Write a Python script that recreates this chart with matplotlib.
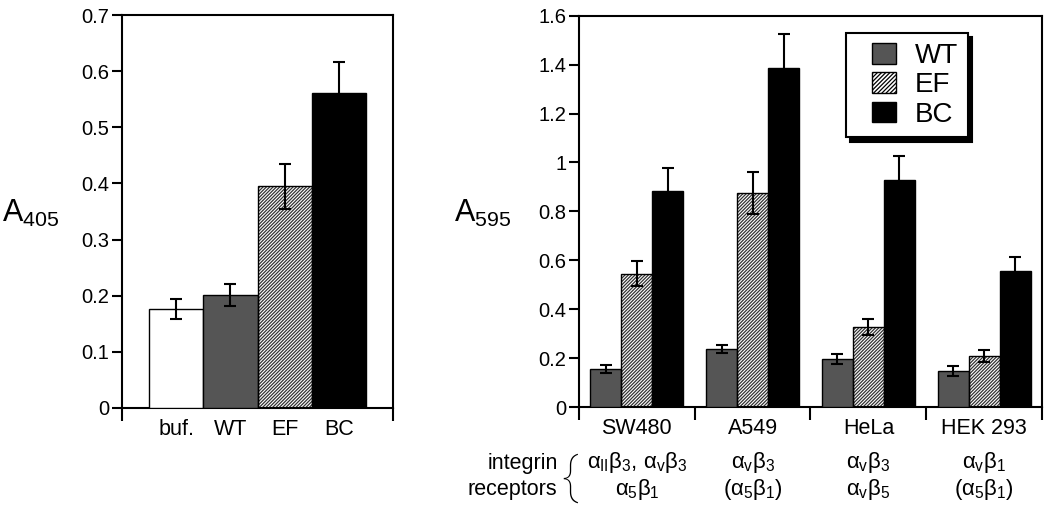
import numpy as np
import matplotlib.pyplot as plt
from matplotlib.patches import Patch, Rectangle
from matplotlib.legend_handler import HandlerPatch

plt.rcParams['font.family'] = ['Liberation Sans', 'DejaVu Sans']
plt.rcParams['mathtext.fontset'] = 'custom'
plt.rcParams['mathtext.rm'] = 'Liberation Sans'
plt.rcParams['mathtext.it'] = 'Liberation Sans'
plt.rcParams['mathtext.bf'] = 'Liberation Sans:bold'
plt.rcParams['hatch.linewidth'] = 0.9

# left panel data
left_labels = ['buf.', 'WT', 'EF', 'BC']
left_vals = [0.177, 0.201, 0.395, 0.562]
left_err = [0.018, 0.019, 0.040, 0.054]

# right panel data
cells = ['SW480', 'A549', 'HeLa', 'HEK 293']
wt_vals = [0.155, 0.236, 0.197, 0.148]
wt_err = [0.017, 0.017, 0.021, 0.020]
ef_vals = [0.545, 0.875, 0.328, 0.210]
ef_err = [0.050, 0.087, 0.033, 0.025]
bc_vals = [0.882, 1.388, 0.930, 0.558]
bc_err = [0.095, 0.136, 0.095, 0.056]
receptors_top = [r'$\alpha_{\mathrm{II}}\beta_3$, $\alpha_{\mathrm{v}}\beta_3$',
                 r'$\alpha_{\mathrm{v}}\beta_3$', r'$\alpha_{\mathrm{v}}\beta_3$',
                 r'$\alpha_{\mathrm{v}}\beta_1$']
receptors_bot = [r'$\alpha_5\beta_1$', r'($\alpha_5\beta_1$)',
                 r'$\alpha_{\mathrm{v}}\beta_5$', r'($\alpha_5\beta_1$)']

WT_COLOR = '#555555'
HATCH = '//////////'
err_kw = dict(ecolor='black', elinewidth=1.5, capsize=4.5, capthick=1.5)

fig = plt.figure(figsize=(10.5, 5.15), dpi=100)
ax1 = fig.add_axes([0.1162, 0.2078, 0.2581, 0.763])
ax2 = fig.add_axes([0.5514, 0.2097, 0.4410, 0.7598])


def hatched_bars(ax, x, vals, width, err):
    # hatch drawn in gray, outline drawn separately in black
    ax.bar(x, vals, width, color='white', edgecolor='#333333', hatch=HATCH,
           linewidth=0, zorder=2)
    return ax.bar(x, vals, width, fill=False, edgecolor='black', linewidth=1.0,
                  yerr=err, error_kw=err_kw, zorder=3)


def style_axis(ax):
    for sp in ax.spines.values():
        sp.set_linewidth(1.5)
    ax.tick_params(axis='y', direction='out', length=7, width=1.5,
                   labelsize=14.5, pad=2, right=False)
    ax.tick_params(axis='x', which='major', direction='out', length=9,
                   width=1.5, labelbottom=False)
    ax.tick_params(axis='x', which='minor', length=0, labelsize=15.5, pad=8)


# ---- left panel ----
xl = np.arange(len(left_labels))
ax1.bar(xl[0], left_vals[0], 1.0, color='white', edgecolor='black', linewidth=1.0,
        yerr=left_err[0], error_kw=err_kw, zorder=3)
ax1.bar(xl[1], left_vals[1], 1.0, color=WT_COLOR, edgecolor='black', linewidth=1.0,
        yerr=left_err[1], error_kw=err_kw, zorder=3)
hatched_bars(ax1, xl[2], left_vals[2], 1.0, left_err[2])
ax1.bar(xl[3], left_vals[3], 1.0, color='black', edgecolor='black', linewidth=1.0,
        yerr=left_err[3], error_kw=err_kw, zorder=3)
ax1.set_xlim(-1, 4)
ax1.set_ylim(0, 0.7)
ax1.set_yticks(np.arange(0, 0.71, 0.1))
ax1.set_yticklabels(['0'] + ['%.1f' % v for v in np.arange(0.1, 0.71, 0.1)])
ax1.set_xticks([-1, 4])
ax1.set_xticks(xl, left_labels, minor=True)
style_axis(ax1)
fig.text(0.002, 0.585, r'A$_{405}$', fontsize=22, ha='left', va='center')

# ---- right panel ----
xg = np.arange(len(cells))
bw = 0.267
ax2.bar(xg - bw, wt_vals, bw, color=WT_COLOR, edgecolor='black', linewidth=1.0,
        yerr=wt_err, error_kw=err_kw, zorder=3)
hatched_bars(ax2, xg, ef_vals, bw, ef_err)
ax2.bar(xg + bw, bc_vals, bw, color='black', edgecolor='black', linewidth=1.0,
        yerr=bc_err, error_kw=err_kw, zorder=3)
ax2.set_xlim(-0.5, 3.5)
ax2.set_ylim(0, 1.6)
yt = np.arange(0, 1.61, 0.2)
ax2.set_yticks(yt)
ax2.set_yticklabels(['%g' % round(v, 1) for v in yt])
ax2.set_xticks(np.arange(-0.5, 3.6, 1.0))
ax2.set_xticks(xg, cells, minor=True)
style_axis(ax2)
fig.text(0.432, 0.585, r'A$_{595}$', fontsize=22, ha='left', va='center')


# legend: square swatch sitting at the right end of a wider handle box
def swatch(legend, orig_handle, xdescent, ydescent, width, height, fontsize):
    side = 0.83 * fontsize
    return Rectangle((-xdescent + width - side, -ydescent), side, height)


handles = [Patch(facecolor=WT_COLOR, edgecolor='black', linewidth=1.0),
           Patch(facecolor='white', edgecolor='black', hatch='////////', linewidth=1.0),
           Patch(facecolor='black', edgecolor='black', linewidth=1.0)]
leg = ax2.legend(handles, ['WT', 'EF', 'BC'], loc='upper right',
                 bbox_to_anchor=(0.84, 0.956), borderaxespad=0, fontsize=20,
                 handlelength=1.45, handleheight=0.78, handletextpad=0.7,
                 labelspacing=0.12, borderpad=0.35, fancybox=False,
                 shadow={'color': 'black', 'alpha': 1, 'ox': 3, 'oy': -3},
                 framealpha=1, edgecolor='black',
                 handler_map={Patch: HandlerPatch(patch_func=swatch)})
leg.get_frame().set_linewidth(1.5)

# integrin receptor annotations
tr = ax2.get_xaxis_transform()
for i in range(len(cells)):
    ax2.text(xg[i], -0.143, receptors_top[i], transform=tr, ha='center',
             va='center', fontsize=16)
    ax2.text(xg[i], -0.212, receptors_bot[i], transform=tr, ha='center',
             va='center', fontsize=16)
fig.text(0.531, 1 - 463 / 515, 'integrin', ha='right', va='center', fontsize=15.5)
fig.text(0.531, 1 - 490 / 515, 'receptors', ha='right', va='center', fontsize=15.5)
fig.text(0.5425, 1 - 478 / 515, '{', ha='center', va='center', fontsize=36,
         family=['Roboto', 'Liberation Sans'], fontweight='light')

fig.savefig('out.png', dpi=100)
